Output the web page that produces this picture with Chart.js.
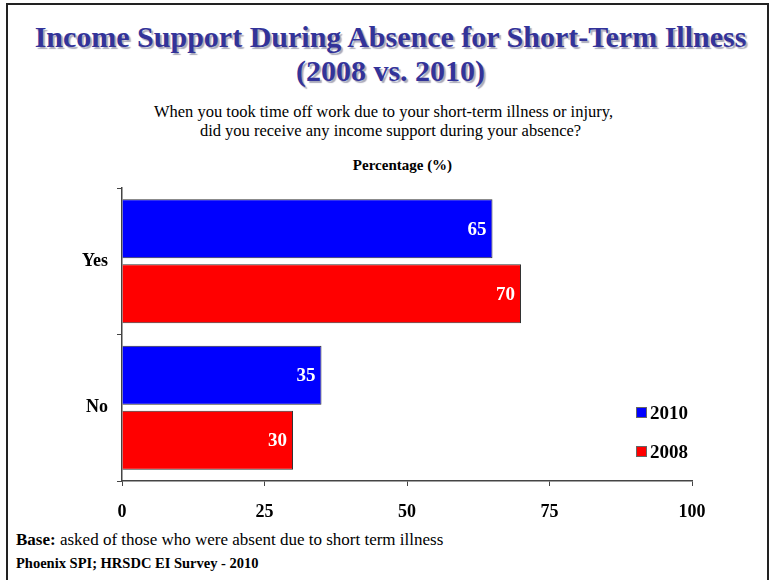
<!DOCTYPE html>
<html>
<head>
<meta charset="utf-8">
<script src="https://cdn.jsdelivr.net/npm/chart.js@4/dist/chart.umd.min.js"></script>
<style>
  html, body { margin: 0; padding: 0; background: #fff; }
  #page { position: relative; width: 769px; height: 580px; overflow: hidden; font-family: "Liberation Serif", "Times New Roman", serif; }
  #frame { position: absolute; left: 6px; top: 3px; width: 759px; height: 600px; border: 2px solid #222; }
  .t { position: absolute; white-space: nowrap; }
  #title { left: 0; width: 769px; text-align: center; top: 20px; font-size: 30px; font-weight: bold; color: #333399; line-height: 34px; text-shadow: 2px 2px 1px #aab; margin-left: 6px; }
  .sub { left: 0; width: 769px; text-align: center; font-size: 16.5px; color: #000; }
  #sub1 { top: 102px; margin-left: -1px; }
  #sub2 { top: 121px; margin-left: 6px; }
  #pct { left: 0; width: 769px; text-align: center; top: 157px; font-size: 15px; font-weight: bold; margin-left: 18px; }
  #base { left: 16px; top: 530px; font-size: 17px; }
  #src { left: 16px; top: 555px; font-size: 14.5px; font-weight: bold; }
  #chartBox { position: absolute; left: 0; top: 180px; width: 769px; height: 350px; }
</style>
</head>
<body>
<div id="page">
  <div id="frame"></div>
  <div class="t" id="title">Income Support During Absence for Short-Term Illness<br>(2008 vs. 2010)</div>
  <div class="t sub" id="sub1">When you took time off work due to your short-term illness or injury,</div>
  <div class="t sub" id="sub2">did you receive any income support during your absence?</div>
  <div class="t" id="pct">Percentage (%)</div>
  <div id="chartBox"><canvas id="c" width="769" height="350"></canvas></div>
  <div class="t" id="base"><b>Base:</b> asked of those who were absent due to short term illness</div>
  <div class="t" id="src">Phoenix SPI; HRSDC EI Survey - 2010</div>
</div>
<script>
// Survey answers and percentages per year
const categories = ['Yes', 'No'];
const years = ['2010', '2008'];
const values2010 = [65, 35];
const values2008 = [70, 30];
const xTicks = [0, 25, 50, 75, 100];

const barColors = ['#0000FF', '#FF0000'];
const serif = '"Liberation Serif", "Times New Roman", serif';

// Value labels drawn inside the end of each bar
const valueLabels = {
  id: 'valueLabels',
  afterDatasetsDraw(chart) {
    const ctx = chart.ctx;
    ctx.save();
    ctx.font = 'bold 19px ' + serif;
    ctx.fillStyle = '#fff';
    ctx.textAlign = 'right';
    ctx.textBaseline = 'middle';
    chart.data.datasets.forEach((ds, di) => {
      chart.getDatasetMeta(di).data.forEach((bar, i) => {
        ctx.fillText(String(ds.data[i]), bar.x - 6, bar.y + 1);
      });
    });
    ctx.restore();
  }
};

// Legend boxes placed at the lower right of the plot
const boxLegend = {
  id: 'boxLegend',
  afterDraw(chart) {
    const ctx = chart.ctx;
    ctx.save();
    ctx.font = 'bold 19px ' + serif;
    ctx.textBaseline = 'middle';
    ctx.textAlign = 'left';
    chart.data.datasets.forEach((ds, i) => {
      const cy = 233 + i * 39;
      ctx.fillStyle = ds.backgroundColor;
      ctx.fillRect(636, cy - 5, 10, 10);
      ctx.strokeStyle = '#666';
      ctx.lineWidth = 1;
      ctx.strokeRect(636.5, cy - 5.5, 10, 10);
      ctx.fillStyle = '#000';
      ctx.fillText(ds.label, 650, cy + 1);
    });
    ctx.restore();
  }
};

new Chart(document.getElementById('c'), {
  type: 'bar',
  data: {
    labels: categories,
    datasets: [
      { label: years[0], data: values2010, backgroundColor: barColors[0], borderColor: '#333', borderWidth: 1 },
      { label: years[1], data: values2008, backgroundColor: barColors[1], borderColor: '#333', borderWidth: 1 }
    ]
  },
  options: {
    indexAxis: 'y',
    responsive: false,
    animation: false,
    devicePixelRatio: 1,
    categoryPercentage: 0.887,
    barPercentage: 0.908,
    layout: { padding: { top: 8, right: 77, left: 0, bottom: 0 } },
    plugins: { legend: { display: false }, tooltip: { enabled: false } },
    scales: {
      x: {
        min: 0, max: 100,
        afterBuildTicks(scale) { scale.ticks = xTicks.map(v => ({ value: v })); },
        afterFit(scale) { scale.height = 49; scale.paddingLeft = 0; scale.paddingRight = 0; },
        grid: { drawOnChartArea: false, drawTicks: true, tickLength: 5, color: '#444', tickWidth: 1 },
        border: { color: '#444', width: 1.5 },
        ticks: { color: '#000', font: { family: serif, size: 18, weight: 'bold' }, padding: 16 }
      },
      y: {
        afterFit(scale) { scale.width = 122; scale.paddingTop = 0; scale.paddingBottom = 0; },
        grid: { drawOnChartArea: false, drawTicks: true, tickLength: 5, color: '#444', offset: true },
        border: { color: '#444', width: 1.5 },
        ticks: { color: '#000', font: { family: serif, size: 18, weight: 'bold' }, padding: 9 }
      }
    }
  },
  plugins: [valueLabels, boxLegend]
});
</script>
</body>
</html>
